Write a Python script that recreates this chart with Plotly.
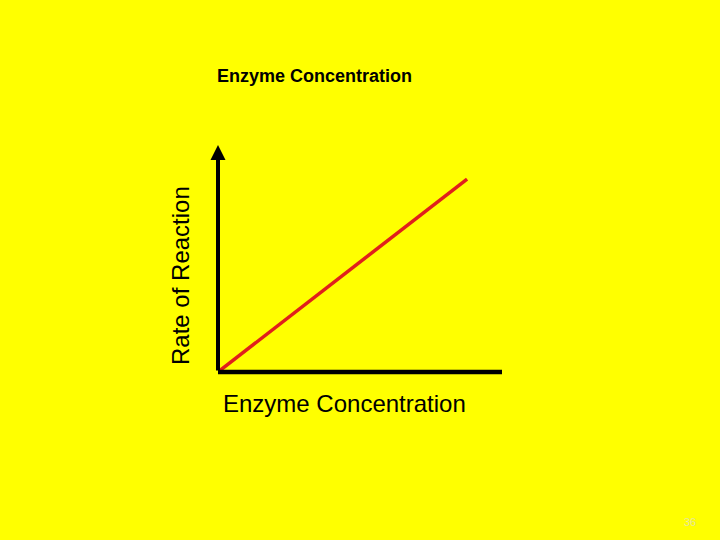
import plotly.graph_objects as go

# Data: linear relationship between enzyme concentration and reaction rate
enzyme_concentration = [0.0, 8.77]
rate_of_reaction = [0.0, 8.5]

title_text = "Enzyme Concentration"
x_label = "Enzyme Concentration"
y_label = "Rate of Reaction"
page_number = "36"

L, R, T, B = 218, 502, 145, 372  # plot area in pixels
W, H = R - L, B - T


def px(x):
    return (x - L) / W


def py(y):
    return (B - y) / H


fig = go.Figure()
fig.add_trace(go.Scatter(
    x=enzyme_concentration, y=rate_of_reaction, mode="lines",
    line=dict(color="#e0201c", width=3.5), hoverinfo="skip", showlegend=False,
    cliponaxis=False,
))

# Axes drawn as black lines; y with an arrow head
fig.add_annotation(x=0, y=1, xref="paper", yref="paper", ax=0, ay=H,
                   showarrow=True, arrowhead=2, arrowsize=0.75, arrowwidth=4,
                   arrowcolor="black", text="", standoff=0, startstandoff=0)
fig.add_shape(type="line", x0=0, x1=1, y0=0, y1=0, xref="paper", yref="paper",
              line=dict(color="black", width=4.5))

font = "Liberation Sans, Arial, sans-serif"
common = dict(xref="paper", yref="paper", showarrow=False, xanchor="center", yanchor="middle")
fig.add_annotation(text=f"<b>{title_text}</b>", x=px(314), y=py(76),
                   font=dict(family=font, size=18, color="black"), **common)
fig.add_annotation(text=x_label, x=px(344), y=py(403),
                   font=dict(family=font, size=24, color="black"), **common)
fig.add_annotation(text=y_label, x=px(180), y=py(276), textangle=-90,
                   font=dict(family=font, size=24, color="black"), **common)
fig.add_annotation(text=page_number, x=px(690), y=py(522),
                   font=dict(family=font, size=11, color="#e6e6a0"), **common)

fig.update_xaxes(range=[0, 10], visible=False, fixedrange=True)
fig.update_yaxes(range=[0, 10], visible=False, fixedrange=True)
fig.update_layout(
    width=720, height=540,
    margin=dict(l=L, r=720 - R, t=T, b=540 - B),
    paper_bgcolor="#ffff00", plot_bgcolor="#ffff00",
    showlegend=False,
)
fig.write_html("out.html", config={"displayModeBar": False},
               post_script="document.body.style.margin='0';document.body.style.background='#ffff00';")
